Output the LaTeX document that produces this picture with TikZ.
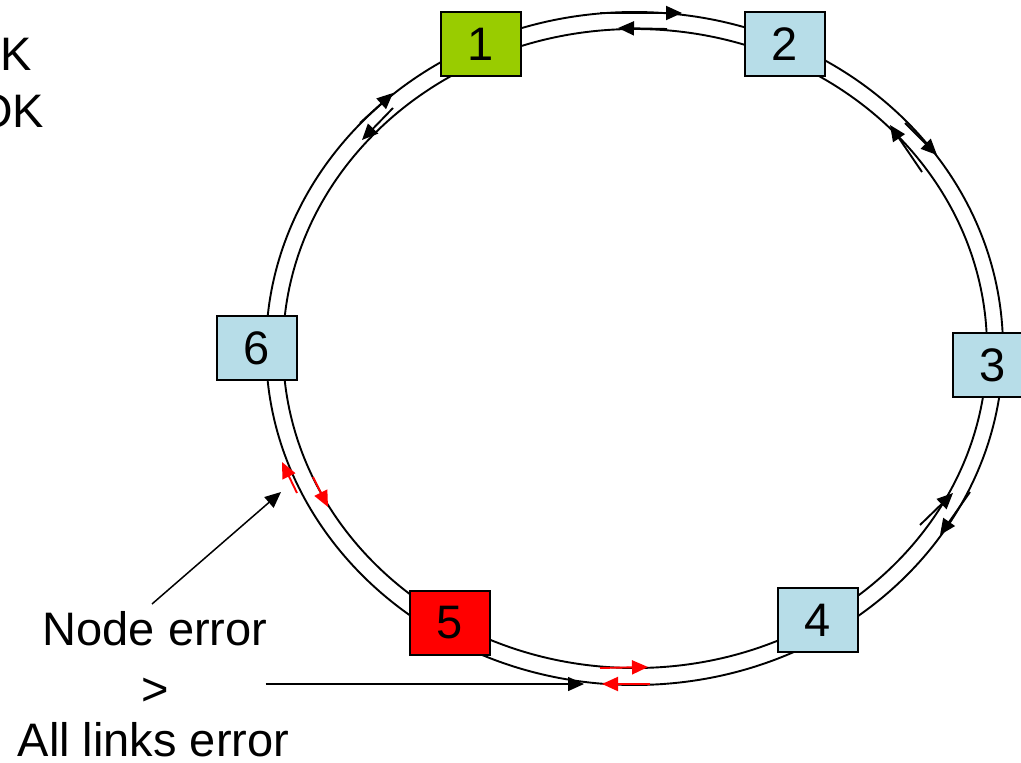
\documentclass[tikz,border=0pt]{standalone}
\usepackage{fontspec}
\setmainfont{Liberation Sans}
\usetikzlibrary{arrows.meta}
\definecolor{stationblue}{RGB}{183,221,232}
\definecolor{stationgreen}{RGB}{153,204,0}
\tikzset{
  station/.style={draw,line width=1.4pt,minimum width=80pt,minimum height=64pt,inner sep=0pt,font=\fontsize{47}{50}\selectfont},
  lbl/.style={inner sep=0pt,font=\fontsize{47}{50}\selectfont}
}
\begin{document}
\begin{tikzpicture}[x=1pt,y=-1pt,>={Triangle[length=16pt,width=14pt]},line width=1.9pt]
\useasboundingbox (0,0) rectangle (1021,763);
% the double ring
\draw (634.5,348.5) ellipse (368.5 and 336.5);
\draw (635,348.5) ellipse (352 and 319.5);
% traffic on both rings
\draw[->] (600,13) -- (682,13);
\draw[->] (667,29) -- (618,28);
\draw[->] (360,123) -- (393,93);
\draw[->] (393,108) -- (362,140);
\draw[->] (905,123) -- (937,155);
\draw[->] (922,172) -- (890,125);
\draw[->] (920,525) -- (953,493);
\draw[->] (970,492) -- (940,535);
%% broken part
\draw[->,red] (297,493) -- (282,462);
\draw[->,red] (313,477) -- (328,507);
\draw[->,red] (600,668) -- (648,667);
\draw[->,red] (650,684) -- (602,684);
% stations
\node[station,fill=stationgreen] (N1) at (481,44) {1};
\node[station,fill=stationblue] (N2) at (785,44) {2};
\node[station,fill=stationblue] (N3) at (993,365) {3};
\node[station,fill=stationblue] (N4) at (818,620) {4};
\node[station,fill=red] (N5) at (450,623) {5};
\node[station,fill=stationblue] (N6) at (257,348) {6};
% legend
\node[lbl,anchor=base east] (legA) at (33,70) {K};
\node[lbl,anchor=base east] (legB) at (45,127) {OK};
\node[lbl,anchor=base] (err) at (155,645) {Node error};
\node[lbl,anchor=base] (gt) at (155,705) {>};
\node[lbl,anchor=base] (all) at (153.5,756) {All links error};
\coordinate (hitA) at (281,492);
\coordinate (hitB) at (584,684);
\draw[->,line width=1.5pt] ([shift={(-3,-6)}]err.north) -- (hitA);
\draw[->,line width=1.5pt,shorten <=96pt] (hitB -| gt.east) -- (hitB);
\end{tikzpicture}
\end{document}
